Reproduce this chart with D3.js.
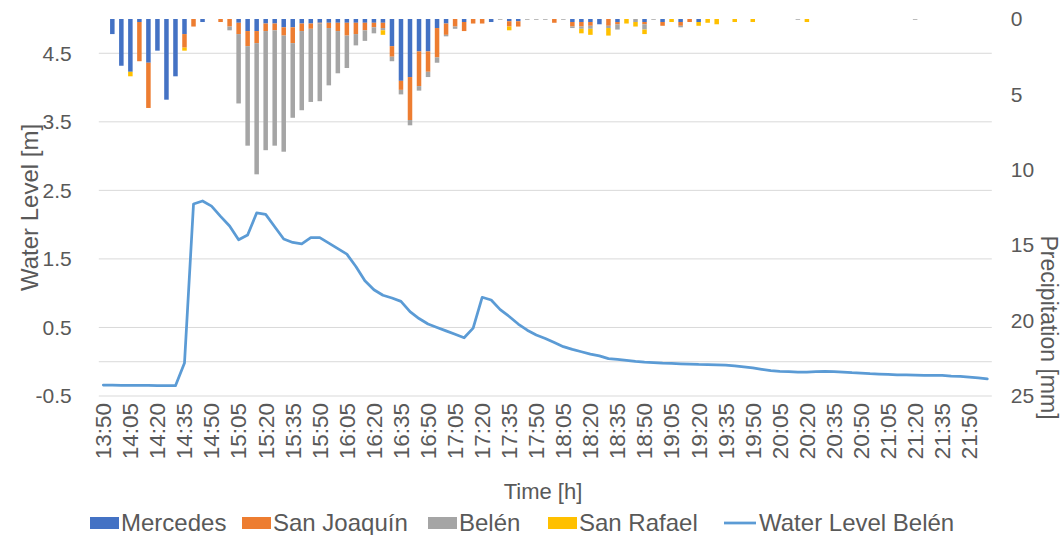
<!DOCTYPE html>
<html><head><meta charset="utf-8">
<script src="https://cdn.jsdelivr.net/npm/d3@7"></script>
<style>
html,body{margin:0;padding:0;background:#fff;}
svg{display:block;font-family:"Liberation Sans",Arial,sans-serif;}
</style></head>
<body><svg id="c" width="1061" height="535"></svg>
<script>
const times = ["13:50","13:55","14:00","14:05","14:10","14:15","14:20","14:25","14:30","14:35","14:40","14:45","14:50","14:55","15:00","15:05","15:10","15:15","15:20","15:25","15:30","15:35","15:40","15:45","15:50","15:55","16:00","16:05","16:10","16:15","16:20","16:25","16:30","16:35","16:40","16:45","16:50","16:55","17:00","17:05","17:10","17:15","17:20","17:25","17:30","17:35","17:40","17:45","17:50","17:55","18:00","18:05","18:10","18:15","18:20","18:25","18:30","18:35","18:40","18:45","18:50","18:55","19:00","19:05","19:10","19:15","19:20","19:25","19:30","19:35","19:40","19:45","19:50","19:55","20:00","20:05","20:10","20:15","20:20","20:25","20:30","20:35","20:40","20:45","20:50","20:55","21:00","21:05","21:10","21:15","21:20","21:25","21:30","21:35","21:40","21:45","21:50","21:55","22:00"];

const mercedes = [0,1.0,3.1,3.5,0.2,2.9,2.1,5.35,3.8,1.0, 0,0.2,0,0,0,0.25,0.8,0.8,0.3,0.3, 0.55,0.55,0.3,0.3,0.25,0.25,0.25,0.25,0.25,0.25, 0.25,0.25,1.8,4.1,3.85,2.15,2.15,0.6,0.3,0, 0.2,0,0,0.2,0,0.15,0.15,0,0,0, 0,0,0.2,0.2,0.2,0.35,0,0.2,0,0, 0.2,0,0.2,0,0.2,0,0.2,0,0,0, 0,0,0,0,0,0,0,0,0,0, 0,0,0,0,0,0,0,0,0,0, 0,0,0,0,0,0,0,0,0];
const sanJoaquin = [0,0,0,0,2.6,3.0,0,0,0,0.9, 0.5,0,0,0.2,0.5,0.75,1.0,0.8,0.5,0.45, 0.55,1.05,0.5,0.35,0.05,0.35,0.55,0.85,0.75,0.5, 0.3,0.35,0.7,0.6,2.85,2.3,1.35,1.95,0.75,0.5, 0.6,0.3,0.3,0,0,0.35,0.35,0,0,0, 0.25,0,0.3,0.3,0.25,0,0.45,0.15,0,0, 0.15,0,0.25,0,0.25,0.2,0,0,0,0, 0,0,0,0,0,0,0,0,0,0, 0,0,0,0,0,0,0,0,0,0, 0,0,0,0,0,0,0,0,0];
const belen = [0,0,0,0,0,0,0,0,0,0, 0,0,0,0,0.25,4.6,6.6,8.7,7.9,7.65, 7.7,4.95,5.25,4.85,5.15,3.8,2.8,2.15,0.75,0.7, 0.4,0.15,0.3,0.3,0.35,0.3,0.35,0.35,0.1,0.15, 0,0,0,0,0.05,0,0,0.05,0.05,0.05, 0,0.05,0.1,0.15,0.2,0,0.15,0.35,0,0.2, 0.35,0.05,0,0,0.1,0,0,0,0,0, 0,0,0,0,0,0,0,0.05,0,0, 0,0,0,0,0,0,0,0,0,0, 0.05,0,0,0,0,0,0,0,0];
const sanRafael = [0,0,0,0.3,0,0,0,0,0,0.2, 0,0,0,0,0,0,0,0,0,0, 0,0,0,0,0,0,0,0,0,0, 0,0.3,0,0,0,0,0,0,0,0, 0,0,0,0,0,0.25,0,0,0,0, 0,0,0,0.3,0.4,0,0.5,0,0.3,0.3, 0.3,0,0,0.2,0,0,0.25,0.25,0.35,0, 0.2,0,0.2,0,0,0,0,0,0.2,0, 0,0,0,0,0,0,0,0,0,0, 0,0,0,0,0,0,0,0,0];
const waterLevel = [-0.34,-0.34,-0.345,-0.345,-0.345,-0.345,-0.35,-0.35,-0.35,-0.02, 2.30,2.345,2.27,2.12,1.98,1.78,1.85,2.17,2.15,1.97, 1.79,1.74,1.72,1.81,1.81,1.73,1.65,1.57,1.39,1.18, 1.05,0.97,0.93,0.88,0.73,0.63,0.55,0.50,0.45,0.40, 0.35,0.49,0.94,0.90,0.76,0.66,0.55,0.46,0.39,0.34, 0.28,0.22,0.18,0.145,0.11,0.085,0.045,0.035,0.02,0.005, -0.005,-0.012,-0.02,-0.025,-0.03,-0.035,-0.04,-0.042,-0.045,-0.05, -0.06,-0.075,-0.09,-0.11,-0.13,-0.14,-0.145,-0.15,-0.15,-0.145, -0.14,-0.145,-0.15,-0.16,-0.165,-0.175,-0.18,-0.185,-0.19,-0.19, -0.195,-0.2,-0.2,-0.2,-0.21,-0.215,-0.225,-0.235,-0.25];

const seriesNames = ["Mercedes","San Joaquín","Belén","San Rafael"];
const seriesColors = ["#4472C4","#ED7D31","#A5A5A5","#FFC000"];
const lineName = "Water Level Belén";
const lineColor = "#5B9BD5";
const leftTicks = [-0.5,0.5,1.5,2.5,3.5,4.5];
const rightTicks = [0,5,10,15,20,25];

const svg = d3.select("#c");
const L = 98.8, R = 991.8, T = 19, B = 396;
const textColor = "#595959", gridColor = "#D9D9D9";
const fs = 21;

const x = d3.scaleBand().domain(times).range([L, R]).paddingInner(0.5).paddingOuter(0.25);
const yL = d3.scaleLinear().domain([-0.5, 5]).range([B, T]);
const yR = d3.scaleLinear().domain([0, 25]).range([T, B]);

// gridlines
svg.append("g").selectAll("line").data(leftTicks).join("line")
  .attr("x1", L).attr("x2", R).attr("y1", d => yL(d)).attr("y2", d => yL(d))
  .attr("stroke", gridColor).attr("stroke-width", 1);
// horizontal category axis line at 0
svg.append("line").attr("x1", L).attr("x2", R).attr("y1", yL(0)).attr("y2", yL(0))
  .attr("stroke", gridColor).attr("stroke-width", 1);

// stacked bars
const table = times.map((t, i) => ({t, "Mercedes": mercedes[i], "San Joaquín": sanJoaquin[i], "Belén": belen[i], "San Rafael": sanRafael[i]}));
const stacked = d3.stack().keys(seriesNames)(table);
svg.append("g").selectAll("g").data(stacked).join("g")
  .attr("fill", (d, i) => seriesColors[i])
  .selectAll("rect").data(d => d.filter(p => p[1] - p[0] > 0)).join("rect")
  .attr("x", d => x(d.data.t)).attr("width", x.bandwidth())
  .attr("y", d => yR(d[0])).attr("height", d => yR(d[1]) - yR(d[0]));

// line
const line = d3.line().x((d, i) => x(times[i]) + x.bandwidth() / 2).y(d => yL(d));
svg.append("path").datum(waterLevel).attr("d", line)
  .attr("fill", "none").attr("stroke", lineColor).attr("stroke-width", 2.75)
  .attr("stroke-linejoin", "round").attr("stroke-linecap", "round");

// left axis
const axL = svg.append("g").attr("transform", `translate(${L - 27},0)`)
  .call(d3.axisLeft(yL).tickValues(leftTicks).tickSize(0).tickPadding(0).tickFormat(d => d.toFixed(1)));
axL.select(".domain").remove();
axL.selectAll("text").attr("fill", textColor).style("font-size", fs + "px").style("font-family", "Liberation Sans, Arial, sans-serif");

// right axis
const axR = svg.append("g").attr("transform", `translate(${R + 19},0)`)
  .call(d3.axisRight(yR).tickValues(rightTicks).tickSize(0).tickPadding(0));
axR.select(".domain").remove();
axR.selectAll("text").attr("fill", textColor).style("font-size", fs + "px").style("font-family", "Liberation Sans, Arial, sans-serif");

// bottom axis
const labelTimes = times.filter((t, i) => i % 3 === 0 && i <= 96);
const axB = svg.append("g").attr("transform", `translate(0,${B + 7})`)
  .call(d3.axisBottom(x).tickValues(labelTimes).tickSize(0).tickPadding(0));
axB.select(".domain").remove();
axB.selectAll("text").attr("fill", textColor).style("font-size", "22.5px")
  .style("font-family", "Liberation Sans, Arial, sans-serif")
  .attr("text-anchor", "end").attr("dy", "0.35em").attr("y", 0).attr("x", 0)
  .attr("transform", "rotate(-90)");

// axis titles
svg.append("text").attr("transform", `translate(38,${(T + B) / 2}) rotate(-90)`)
  .attr("text-anchor", "middle").attr("fill", textColor).style("font-size", "24px").text("Water Level [m]");
svg.append("text").attr("transform", `translate(1041,${(T + B) / 2 + 120}) rotate(90)`)
  .attr("text-anchor", "middle").attr("fill", textColor).style("font-size", "23px").text("Precipitation [mm]");
svg.append("text").attr("x", 543).attr("y", 499).attr("text-anchor", "middle")
  .attr("fill", textColor).style("font-size", "22px").text("Time [h]");

// legend
const leg = svg.append("g");
const ly = 523;
const legendStarts = [90, 242, 428, 548, 724];
const items = seriesNames.map((n, i) => ({name: n, color: seriesColors[i], type: "rect"}))
  .concat([{name: lineName, color: lineColor, type: "line"}]);
items.forEach((it, i) => {
  const lx = legendStarts[i];
  if (it.type === "rect") {
    leg.append("rect").attr("x", lx).attr("y", ly - 6).attr("width", 29).attr("height", 12).attr("fill", it.color);
  } else {
    leg.append("line").attr("x1", lx).attr("x2", lx + 32).attr("y1", ly).attr("y2", ly)
      .attr("stroke", it.color).attr("stroke-width", 2.75);
  }
  leg.append("text").attr("x", lx + (it.type === "rect" ? 31 : 35)).attr("y", ly).attr("dy", "0.35em")
    .attr("fill", textColor).style("font-size", "24px").text(it.name);
});
</script>
</body></html>
